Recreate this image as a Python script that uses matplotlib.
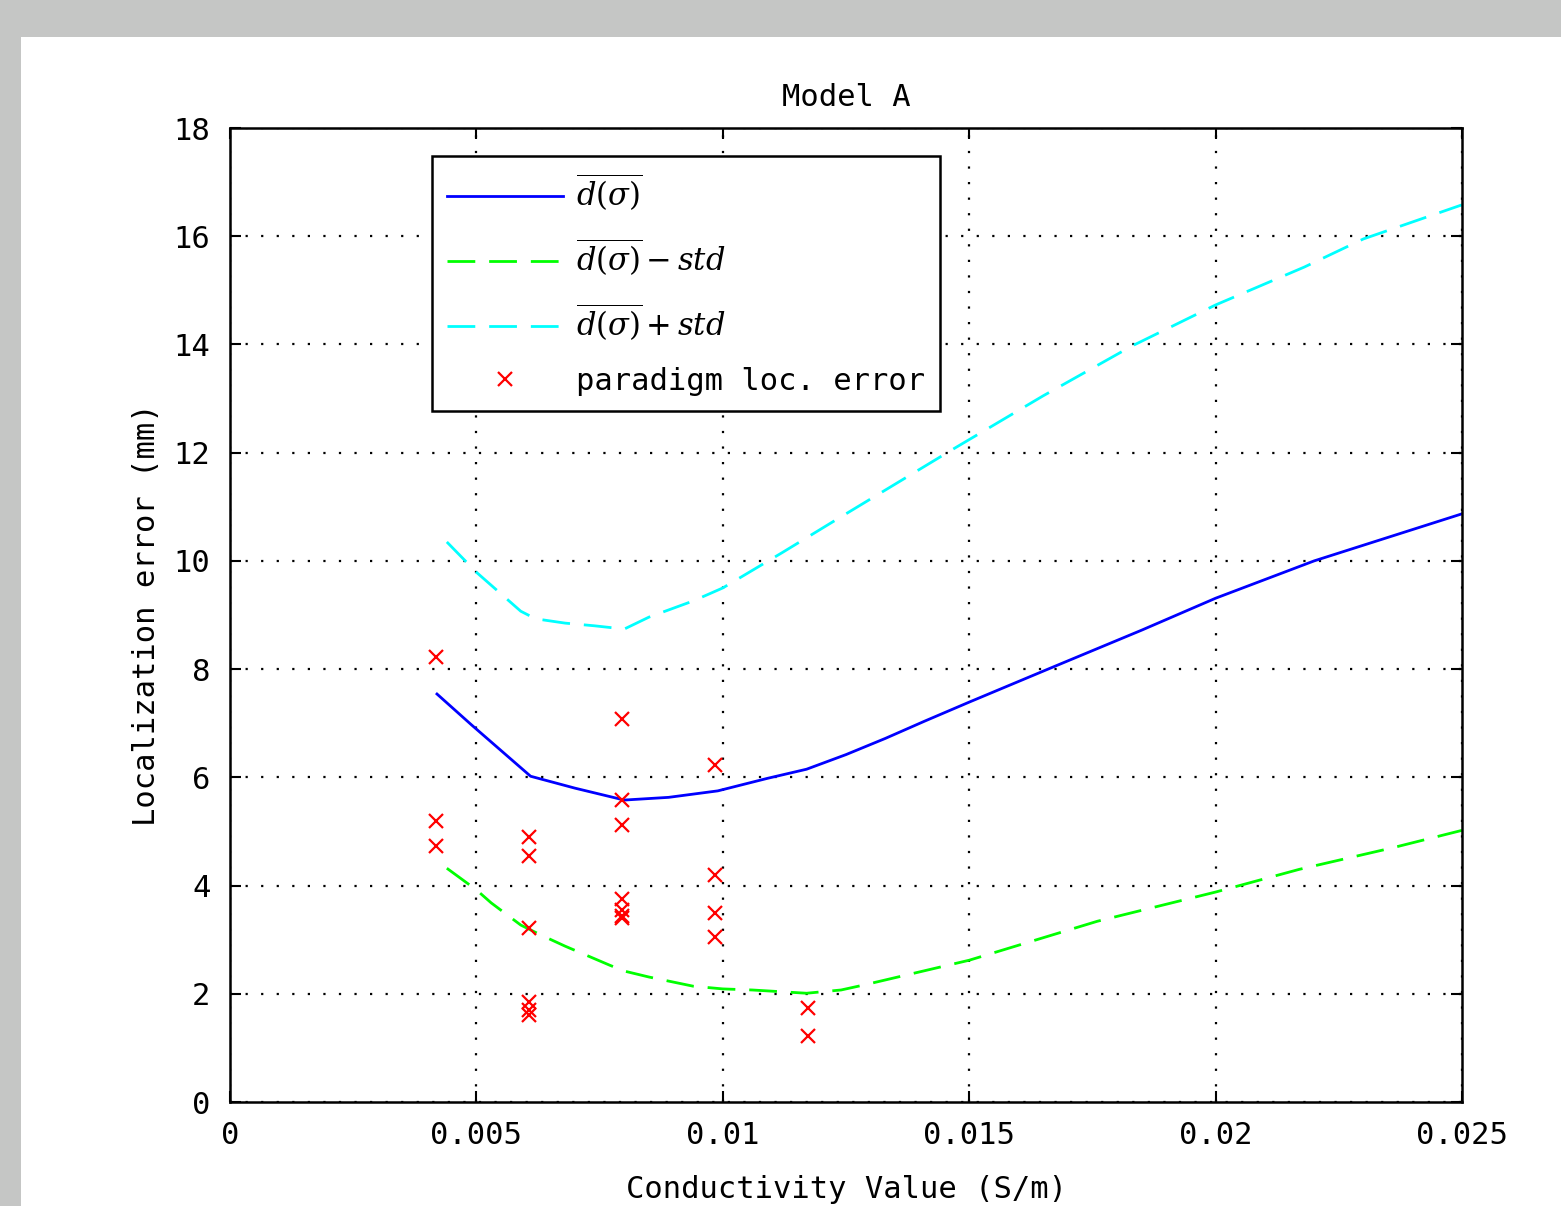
import numpy as np
import matplotlib
matplotlib.use('Agg')
import matplotlib.pyplot as plt
from matplotlib.patches import Rectangle

#%% Data
# mean localization error curve
sig_mean = [0.0042, 0.0049, 0.0061, 0.0070, 0.0080, 0.0089, 0.0099, 0.0109, 0.0117,
            0.0125, 0.0133, 0.0141, 0.0150, 0.0166, 0.0185, 0.0200, 0.0220, 0.0250]
d_mean = [7.54, 6.97, 6.02, 5.80, 5.58, 5.63, 5.75, 5.98, 6.15,
          6.42, 6.72, 7.04, 7.39, 8.00, 8.72, 9.31, 10.00, 10.87]

# mean - std
sig_low = [0.0044, 0.0050, 0.0053, 0.0059, 0.0063, 0.0068, 0.0077, 0.0080, 0.0085, 0.0094,
           0.0100, 0.0106, 0.0117, 0.0124, 0.0129, 0.0150, 0.0176, 0.0200, 0.0217, 0.0236, 0.0250]
d_low = [4.32, 3.92, 3.68, 3.27, 3.09, 2.88, 2.53, 2.42, 2.31, 2.14,
         2.09, 2.07, 2.01, 2.07, 2.17, 2.62, 3.34, 3.88, 4.30, 4.70, 5.02]

# mean + std
sig_high = [0.0044, 0.0050, 0.0059, 0.0062, 0.0068, 0.0074, 0.0080, 0.0085, 0.0094, 0.0100,
            0.0112, 0.0123, 0.0147, 0.0165, 0.0183, 0.0200, 0.0218, 0.0230, 0.0250]
d_high = [10.35, 9.79, 9.07, 8.93, 8.85, 8.80, 8.74, 8.96, 9.26, 9.50,
          10.15, 10.76, 12.08, 13.05, 13.97, 14.73, 15.43, 15.95, 16.58]

# paradigm localization errors
par_sig = [0.00418] * 3 + [0.00607] * 6 + [0.00795] * 7 + [0.00984] * 4 + [0.01173] * 2
par_err = [8.22, 5.19, 4.73,
           4.90, 4.55, 3.22, 1.85, 1.70, 1.61,
           7.08, 5.58, 5.12, 3.75, 3.55, 3.44, 3.40,
           6.23, 4.19, 3.49, 3.05,
           1.74, 1.22]

xticks = [0, 0.005, 0.01, 0.015, 0.02, 0.025]
xticklabels = ['0', '0.005', '0.01', '0.015', '0.02', '0.025']
yticks = list(range(0, 19, 2))

#%% Plotting
plt.rcParams['font.family'] = ['DejaVu Sans Mono']
plt.rcParams['mathtext.fontset'] = 'dejavuserif'

fig = plt.figure(figsize=(15.61, 12.06), dpi=100)
fig.patch.set_facecolor('#c5c6c5')
fig.add_artist(Rectangle((21/1561, 0), 1 - 21/1561, (1206-37)/1206,
                         transform=fig.transFigure, facecolor='white',
                         edgecolor='none', zorder=-10))

ax = fig.add_axes([230/1561, 104/1206, 1232/1561, 974/1206])
ax.plot(sig_mean, d_mean, color='#0000ff', lw=2, label=r'$\overline{d(\sigma)}$')
ax.plot(sig_low, d_low, color='#00ff00', lw=2, dashes=(10, 5),
        label=r'$\overline{d(\sigma)}-std$')
ax.plot(sig_high, d_high, color='#00ffff', lw=2, dashes=(10, 5),
        label=r'$\overline{d(\sigma)}+std$')
ax.plot(par_sig, par_err, 'x', color='#ff0000', ms=10, mew=1.6, ls='none',
        label='paradigm loc. error')

ax.set_xlim(0, 0.025)
ax.set_ylim(0, 18)
ax.set_xticks(xticks)
ax.set_xticklabels(xticklabels)
ax.set_yticks(yticks)
ax.tick_params(direction='in', top=True, right=True, length=8, width=1.5,
               labelsize=22, pad=14)
ax.grid(True, color='black', ls=(0, (1, 6)), lw=1.6)
for s in ax.spines.values():
    s.set_linewidth(1.8)

ax.set_title('Model A', fontsize=22, pad=16)
ax.set_xlabel('Conductivity Value (S/m)', fontsize=22, labelpad=18)
ax.set_ylabel('Localization error (mm)', fontsize=22, labelpad=9)

leg = ax.legend(loc='upper left', bbox_to_anchor=(0.164, 0.971), fontsize=22,
                frameon=True, fancybox=False, framealpha=1, edgecolor='black',
                handlelength=3.8, labelspacing=0.75, borderpad=0.5, handletextpad=0.4,
                borderaxespad=0)
leg.get_frame().set_linewidth(1.8)

fig.savefig('out.png', dpi=100)
